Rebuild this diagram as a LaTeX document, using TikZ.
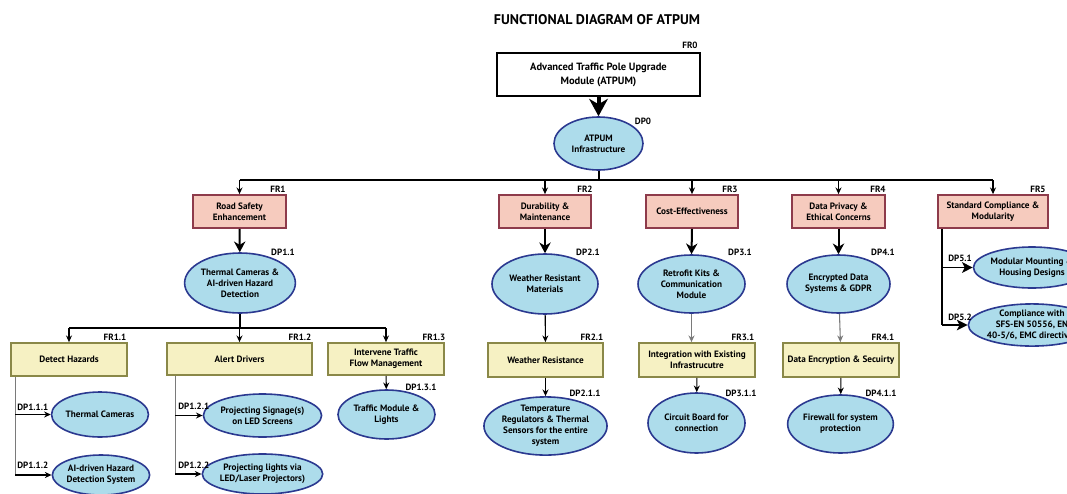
\documentclass[tikz,border=0pt]{standalone}
\usepackage{fontspec}
\setmainfont{PT Sans}
\usetikzlibrary{shapes.geometric,arrows.meta,calc}
\definecolor{pinkfill}{HTML}{F6CBBE}
\definecolor{pinkdraw}{HTML}{8E3B4B}
\definecolor{yelfill}{HTML}{F6F1C3}
\definecolor{yeldraw}{HTML}{8A8848}
\definecolor{blufill}{HTML}{ADDCEB}
\definecolor{bludraw}{HTML}{2B3990}
\definecolor{linegray}{HTML}{7A7A7A}
\tikzset{
  wh/.style 2 args={minimum width=#1*0.75pt,minimum height=#2*0.75pt},
  txt/.style={font=\fontsize{6.9}{8.2}\selectfont\bfseries, align=center, inner sep=0pt},
  topbox/.style={txt, rectangle, draw=black, fill=white, line width=1.5pt, font=\fontsize{7.9}{10.5}\selectfont\bfseries},
  frbox/.style={txt, rectangle, draw=pinkdraw, fill=pinkfill, line width=1.3pt},
  subbox/.style={txt, rectangle, draw=yeldraw, fill=yelfill, line width=1.3pt},
  dpell/.style={txt, ellipse, draw=bludraw, fill=blufill, line width=1.2pt},
  lbl/.style={font=\fontsize{6.8}{7.5}\selectfont\bfseries, inner sep=0pt},
  arr/.style={-{Stealth[length=5pt,width=4.5pt]}, line width=0.8pt},
  grayarr/.style={arr, draw=linegray},
  plainline/.style={line width=0.8pt},
  grayline/.style={line width=0.8pt, draw=linegray},
  busline/.style={line width=1.5pt},
  bigarr/.style={-{Stealth[length=8pt,width=8.5pt,inset=2.5pt]}, line width=1.5pt},
  hugearr/.style={-{Stealth[length=13pt,width=14pt,inset=4pt]}, line width=3pt},
  sidearr/.style={-{Stealth[length=8pt,width=8pt,inset=2pt]}, line width=1.2pt},
}
\begin{document}
\begin{tikzpicture}[x=0.75pt,y=-0.75pt]
\useasboundingbox (0,0) rectangle (1067,493);
\clip (0,0) rectangle (1067,493);

% title
\node[font=\fontsize{10.5}{12}\selectfont\bfseries, inner sep=0pt] (title) at (597,20) {FUNCTIONAL DIAGRAM OF ATPUM};

% top
\node[topbox, wh={203}{43}] (fr0) at (598.5,74.5) {Advanced Traffic Pole Upgrade\\Module (ATPUM)};
\node[dpell, wh={89}{53}] (dp0) at (598.5,143.5) {ATPUM\\Infrastructure};

% level 1 FR
\node[frbox, wh={93}{33}] (fr1) at (239.5,211.5) {Road Safety\\Enhancement};
\node[frbox, wh={92}{33}] (fr2) at (545,211.5) {Durability \&\\Maintenance};
\node[frbox, wh={92}{33}] (fr3) at (692,211.5) {Cost-Effectiveness};
\node[frbox, wh={93}{33}] (fr4) at (838.5,211.5) {Data Privacy \&\\Ethical Concerns};
\node[frbox, wh={110}{33}] (fr5) at (993,211.5) {Standard Compliance \&\\Modularity};

% level 1 DP
\node[dpell, wh={106}{60}] (dp11) at (240,283) {Thermal Cameras \&\\AI-driven Hazard\\Detection};
\node[dpell, wh={106}{60}] (dp21) at (545,284) {Weather Resistant\\Materials};
\node[dpell, wh={107}{58}] (dp31) at (691.5,284) {Retrofit Kits \&\\Communication\\Module};
\node[dpell, wh={103}{58}] (dp41) at (838.5,284) {Encrypted Data\\Systems \& GDPR};
\node[dpell, wh={106}{41}] (dp51) at (1032,267.5) {Modular Mounting \&\\Housing Designs};
\node[dpell, wh={106}{42}] (dp52) at (1032,325) {Compliance with\\SFS-EN 50556, EN\\40-5/6, EMC directives};

% level 2 FR
\node[subbox, wh={116}{33}] (fr11) at (69,359.5) {Detect Hazards};
\node[subbox, wh={145}{32}] (fr12) at (239.5,359) {Alert Drivers};
\node[subbox, wh={116}{32}] (fr13) at (386,359) {Intervene Traffic\\Flow Management};
\node[subbox, wh={115}{34}] (fr21) at (545.5,360) {Weather Resistance};
\node[subbox, wh={116}{34}] (fr31) at (697,360) {Integration with Existing\\Infrastrucutre};
\node[subbox, wh={116}{34}] (fr41) at (841,360) {Data Encryption \& Secuirty};

% level 2 DP
\node[dpell, wh={96}{45}] (dp111) at (100,414.5) {Thermal Cameras};
\node[dpell, wh={97}{40}] (dp112) at (101,475) {AI-driven Hazard\\Detection System};
\node[dpell, wh={99}{43}] (dp121) at (262.5,415.5) {Projecting Signage(s)\\on LED Screens};
\node[dpell, wh={99}{40}] (dp122) at (262.5,474) {Projecting lights via\\LED/Laser Projectors)};
\node[dpell, wh={97}{49}] (dp131) at (386.5,414.5) {Traffic Module \&\\Lights};
\node[dpell, wh={99}{58}] (dp211) at (545.5,426) {Temperature\\Regulators \& Thermal\\Sensors for the entire\\system};
\node[dpell, wh={97}{60}] (dp311) at (696.5,423) {Circuit Board for\\connection};
\node[dpell, wh={97}{58}] (dp411) at (840.5,424) {Firewall for system\\protection};

% labels
\node[lbl] (lfr0) at (690,45) {FR0};
\node[lbl] (ldp0) at (643,121) {DP0};
\node[lbl] (lfr1) at (278,189) {FR1};
\node[lbl] (lfr2) at (585,189) {FR2};
\node[lbl] (lfr3) at (730,189) {FR3};
\node[lbl] (lfr4) at (878,189) {FR4};
\node[lbl] (lfr5) at (1038,189) {FR5};
\node[lbl] (ldp11) at (283,252) {DP1.1};
\node[lbl] (ldp21) at (588,252) {DP2.1};
\node[lbl] (ldp31) at (740,252) {DP3.1};
\node[lbl] (ldp41) at (883,252) {DP4.1};
\node[lbl, anchor=west] (ldp51) at (948,258) {DP5.1};
\node[lbl, anchor=west] (ldp52) at (948,317) {DP5.2};
\node[lbl] (lfr11) at (115,337) {FR1.1};
\node[lbl] (lfr12) at (300,337) {FR1.2};
\node[lbl] (lfr13) at (434,337) {FR1.3};
\node[lbl] (ldp131) at (421,387) {DP1.3.1};
\node[lbl] (lfr21) at (592,337) {FR2.1};
\node[lbl] (lfr31) at (743,337) {FR3.1};
\node[lbl] (lfr41) at (883,337) {FR4.1};
\node[lbl] (ldp211) at (585,393) {DP2.1.1};
\node[lbl] (ldp311) at (741,393) {DP3.1.1};
\node[lbl] (ldp411) at (881,393) {DP4.1.1};
\node[lbl, anchor=west] (ldp111) at (17,407) {DP1.1.1};
\node[lbl, anchor=west] (ldp112) at (17,465) {DP1.1.2};
\node[lbl, anchor=west] (ldp121) at (178,406) {DP1.2.1};
\node[lbl, anchor=west] (ldp122) at (178,465) {DP1.2.2};

% connectors: top
\draw[hugearr] (fr0) -- (dp0);
\coordinate (busL) at (239.5,180);
\coordinate (busR) at (993,180);
\draw[busline] (dp0) -- (dp0 |- busL);
\draw[busline] (busL) -- (busR);
\draw[arr] (busL) -- (fr1);
\draw[arr] (fr2 |- busL) -- (fr2);
\draw[arr] (fr3 |- busL) -- (fr3);
\draw[arr] (fr4 |- busL) -- (fr4);
\draw[arr] (busR) -- (fr5);

% level 1 FR -> DP
\draw[bigarr] (fr1) -- (dp11);
\draw[bigarr] (fr2) -- (dp21);
\draw[bigarr] (fr3.south) -- (dp31.north);
\draw[bigarr] (fr4) -- (dp41);

% FR5 branches
\coordinate (b5) at ($(fr5.south west)+(5,0)$);
\draw[busline] (b5) -- (b5 |- dp52);
\draw[sidearr] (b5 |- dp51) -- (dp51);
\draw[sidearr] (b5 |- dp52) -- (dp52);

% level 2 bus under DP1.1
\coordinate (bus2L) at (69,328);
\coordinate (bus2R) at (386,328);
\draw[plainline] (dp11) -- (dp11 |- bus2L);
\draw[plainline] (bus2L) -- (bus2R);
\draw[arr] (bus2L) -- (fr11);
\draw[arr] (fr12 |- bus2L) -- (fr12);
\draw[arr] (bus2R) -- (fr13);
\draw[arr] (fr13) -- (dp131);

% FR1.1 branches
\coordinate (b11) at ($(fr11.south west)+(5,0)$);
\draw[grayline] (b11) -- (b11 |- dp112);
\draw[arr] (b11 |- dp111) -- (dp111);
\draw[arr] (b11 |- dp112) -- (dp112);

% FR1.2 branches
\coordinate (b12) at ($(fr12.south west)+(9,0)$);
\draw[grayline] (b12) -- (b12 |- dp122);
\draw[arr] (b12 |- dp121) -- (dp121);
\draw[arr] (b12 |- dp122) -- (dp122);

% columns 2-4
\draw[arr] (dp21) -- (fr21);
\draw[arr] (fr21) -- (dp211);
\draw[grayarr] (dp31.south) -- (dp31.south |- fr31.north);
\draw[arr] (fr31) -- (dp311);
\draw[grayarr] (dp41) -- (fr41);
\draw[arr] (fr41) -- (dp411);
\end{tikzpicture}
\end{document}
